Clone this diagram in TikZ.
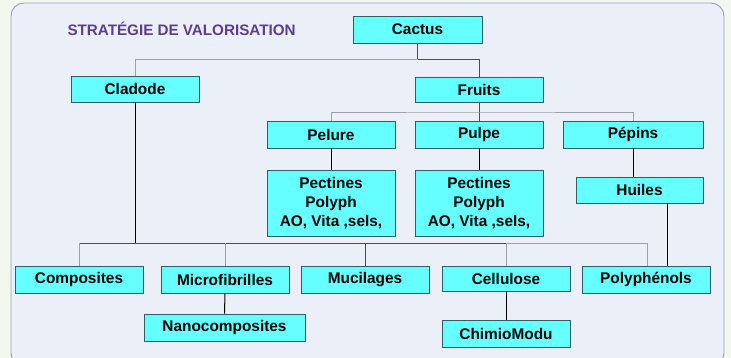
\documentclass[tikz,border=0pt]{standalone}
\usepackage{fontspec}
\setmainfont{Liberation Sans}
\definecolor{boxfill}{HTML}{66FFFF}
\definecolor{boxline}{HTML}{2E5F62}
\definecolor{panelfill}{HTML}{EBF0F8}
\definecolor{panelline}{HTML}{9A9AD2}
\definecolor{outside}{HTML}{F3F8EF}
\definecolor{titlecol}{HTML}{5C3E8C}
\definecolor{darkcon}{HTML}{4A4A5A}
\definecolor{lightcon}{HTML}{A0A0A8}
\begin{document}
\begin{tikzpicture}[x=1pt,y=-1pt,
  box/.style={draw=boxline,line width=0.8pt,fill=boxfill,minimum width=128pt,minimum height=27pt,
    inner sep=0pt,font=\fontsize{15.4}{19}\selectfont\bfseries,align=center},
  dcon/.style={draw=darkcon,line width=0.9pt},
  lcon/.style={draw=lightcon,line width=0.9pt},
  bcon/.style={draw=black,line width=1pt}]
\useasboundingbox (0,0) rectangle (731,358);
\fill[outside] (0,0) rectangle (731,358);
\draw[panelline,fill=panelfill,line width=0.9pt,rounded corners=13pt] (11,3) rectangle (724,366);
\node[anchor=base west,text=titlecol,font=\fontsize{15.2}{18}\selectfont\bfseries] (title) at (64,36) {STRATÉGIE DE VALORISATION};
% boxes
\node[box,minimum width=129pt] (cactus) at (417.5,29.5) {Cactus};
\node[box,minimum height=26pt] (cladode) at (135,89) {Cladode};
\node[box,minimum height=25pt] (fruits) at (479,89.5) {Fruits};
\node[box] (pelure) at (331,134.5) {Pelure};
\node[box] (pulpe) at (479,134.5) {Pulpe};
\node[box,minimum width=140pt] (pepins) at (633,134.5) {Pépins};
\node[box,minimum height=66pt] (pect1) at (331,203) {Pectines\\Polyph\\AO, Vita ,sels,};
\node[box,minimum height=66pt] (pect2) at (479,203) {Pectines\\Polyph\\AO, Vita ,sels,};
\node[box,minimum width=127pt,minimum height=26pt] (huiles) at (639.5,190) {Huiles};
\node[box] (compo) at (79,279.5) {Composites};
\node[box] (micro) at (225,279.5) {Microfibrilles};
\node[box] (muci) at (365,279.5) {Mucilages};
\node[box,minimum height=25pt] (cellu) at (506,278.5) {Cellulose};
\node[box] (polyph) at (646,279.5) {Polyphénols};
\node[box,minimum width=161pt] (nano) at (224.5,327.5) {Nanocomposites};
\node[box] (chimio) at (506,333.5) {ChimioModu};
% connector junctions
\coordinate (j1) at (417.5,59);
\coordinate (fb) at (479,112);
\coordinate (cb) at (135,243);
\coordinate (pb) at (647,243);
% Cactus level
\draw[dcon] (cactus.south) -- (j1);
\draw[lcon] (cladode.north) |- (j1);
\draw[dcon] (j1) -| (fruits.north);
% Fruits level
\draw[dcon] (fruits.south) -- (pulpe.north);
\draw[lcon] (pelure.north) |- (fb) -| (pepins.north);
\draw[bcon] (pelure.south) -- (pect1.north);
\draw[bcon] (pulpe.south) -- (pect2.north);
\draw[bcon] (pepins.south) -- (pepins.south |- huiles.north);
% Cladode level
\draw[bcon] (cladode.south) -- (cb);
\draw[dcon] (compo.north) |- (cb);
\draw[lcon] (compo.north) -- (compo.north |- cb);
\draw[dcon] (cb) -- (cellu.north |- cb);
\draw[lcon] (micro.north) -- (micro.north |- cb);
\draw[dcon] (muci.north) -- (muci.north |- cb);
\draw[lcon] (cellu.north) -- (cellu.north |- cb) -- (pb) -- (pb |- polyph.north);
\draw[bcon] ([xshift=27.5pt]huiles.south) -- ([xshift=27.5pt]huiles.south |- polyph.north);
\draw[bcon] (micro.south) -- (nano.north);
\draw[bcon] (cellu.south) -- (chimio.north);
\end{tikzpicture}
\end{document}
